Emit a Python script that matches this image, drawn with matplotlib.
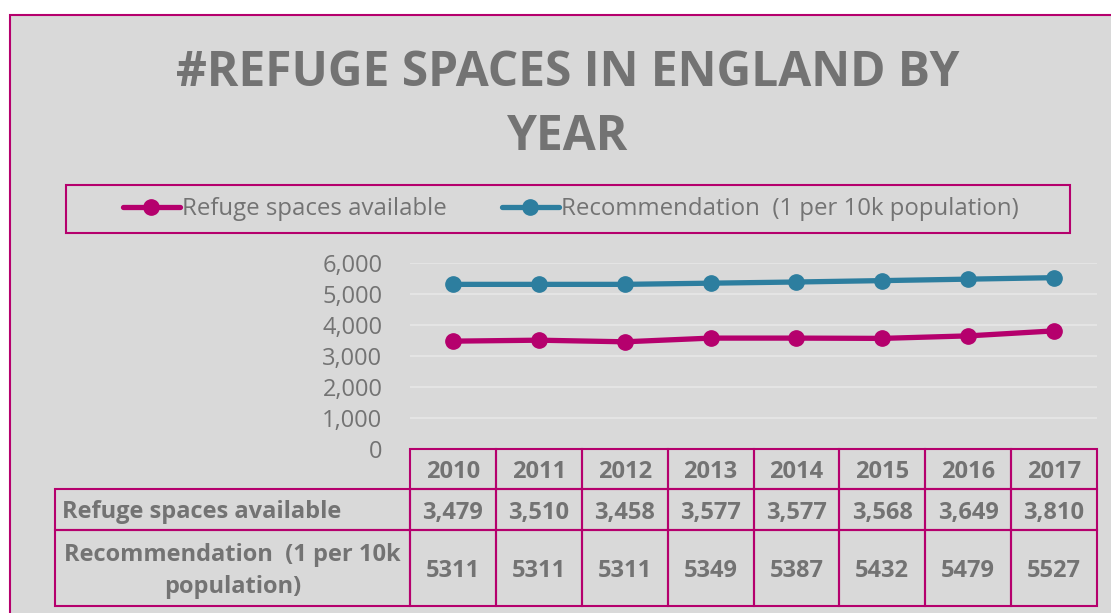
import matplotlib
matplotlib.use("Agg")
import matplotlib.pyplot as plt
from matplotlib.patches import Rectangle
from matplotlib.transforms import blended_transform_factory
from matplotlib.ticker import FuncFormatter

years = ["2010", "2011", "2012", "2013", "2014", "2015", "2016", "2017"]
refuge = [3479, 3510, 3458, 3577, 3577, 3568, 3649, 3810]
recommend = [5311, 5311, 5311, 5349, 5387, 5432, 5479, 5527]
series_names = ["Refuge spaces available", "Recommendation  (1 per 10k population)"]
row_labels = ["Refuge spaces available", "Recommendation  (1 per 10k\npopulation)"]
yticks = [0, 1000, 2000, 3000, 4000, 5000, 6000]

MAG = "#b5006d"
BLUE = "#2d7e9f"
GREY = "#737373"
BG = "#d9d9d9"

plt.rcParams['font.family'] = ['Open Sans', 'DejaVu Sans']

W, H = 1111, 613
fig = plt.figure(figsize=(W / 100, H / 100), dpi=100, facecolor="white")

def fx(px):
    return px / W

def fy(py):
    return 1 - py / H

# chart area background with border
fig.patches.append(Rectangle((fx(10), fy(640)), fx(1130) - fx(10), fy(15) - fy(640),
                             transform=fig.transFigure, facecolor=BG, edgecolor=MAG,
                             linewidth=1.5, zorder=-5))

# title
fig.text(fx(568), fy(105.5), "#REFUGE SPACES IN ENGLAND BY\nYEAR", ha="center", va="center",
         fontsize=34.5, fontweight="bold", color=GREY, linespacing=1.42)

# legend box
fig.patches.append(Rectangle((fx(66), fy(233)), fx(1070) - fx(66), fy(185) - fy(233),
                             transform=fig.transFigure, facecolor="none", edgecolor=MAG,
                             linewidth=1.5, zorder=-4))

# axes
x0, x1 = 410, 1097
ytop, ybot = 263, 449
ax = fig.add_axes([fx(x0), fy(ybot), fx(x1) - fx(x0), fy(ytop) - fy(ybot)])
ax.set_facecolor("none")
xs = list(range(len(years)))
l1, = ax.plot(xs, refuge, color=MAG, lw=3.8, marker="o", ms=11, solid_capstyle="round",
              label=series_names[0], zorder=3)
l2, = ax.plot(xs, recommend, color=BLUE, lw=3.8, marker="o", ms=11, solid_capstyle="round",
              label=series_names[1], zorder=3)
ax.set_xlim(-0.5, len(years) - 0.5)
ax.set_ylim(0, 6000)
ax.set_yticks(yticks)
ax.yaxis.set_major_formatter(FuncFormatter(lambda v, p: f"{int(v):,}"))
ax.tick_params(axis="y", length=0, pad=19.8, labelsize=17, labelcolor=GREY)
ax.set_xticks([])
for s in ax.spines.values():
    s.set_visible(False)
ax.grid(axis="y", color="#e4e4e4", lw=1.5, zorder=0)
ax.set_axisbelow(True)

fig.legend(handles=[l1, l2], loc="center", bbox_to_anchor=(fx(571), fy(209)),
           frameon=False, ncol=2, fontsize=17.3, labelcolor=GREY,
           handlelength=2.35, handletextpad=0.1, columnspacing=2.3)

# data table (drawn below the axes, columns aligned with the categories)
ax_h = ybot - ytop
row_edges_px = [449, 489, 530, 606]
row_y = [(ybot - p) / ax_h for p in row_edges_px]  # axes y of boundaries
text_shift = 3.0 / ax_h
tr = blended_transform_factory(ax.transData, ax.transAxes)
label_x0 = (55 - x0) / (x1 - x0)
label_text_x = (62 - x0) / (x1 - x0)
tfont = dict(fontsize=17, fontweight="bold", color=GREY)
cell_kw = dict(facecolor="none", edgecolor=MAG, linewidth=1.5, clip_on=False)

table_rows = [years, [f"{v:,}" for v in refuge], [f"{v}" for v in recommend]]
for r, vals in enumerate(table_rows):
    yt, yb = row_y[r], row_y[r + 1]
    ymid = (yt + yb) / 2 - text_shift
    for j, v in enumerate(vals):
        ax.add_patch(Rectangle((xs[j] - 0.5, yb), 1, yt - yb, transform=tr, **cell_kw))
        ax.text(xs[j], ymid, v, transform=tr, ha="center", va="center",
                clip_on=False, **tfont)
    if r > 0:
        ax.add_patch(Rectangle((label_x0, yb), 0 - label_x0, yt - yb,
                               transform=ax.transAxes, **cell_kw))
        lab = row_labels[r - 1]
        if r == 1:
            ax.text(label_text_x, ymid, lab, transform=ax.transAxes, ha="left",
                    va="center", clip_on=False, **tfont)
        else:
            ax.text(label_x0 / 2, ymid, lab, transform=ax.transAxes, ha="center",
                    va="center", multialignment="center", linespacing=1.4,
                    clip_on=False, **tfont)

fig.savefig("out.png", dpi=100, facecolor="white")
